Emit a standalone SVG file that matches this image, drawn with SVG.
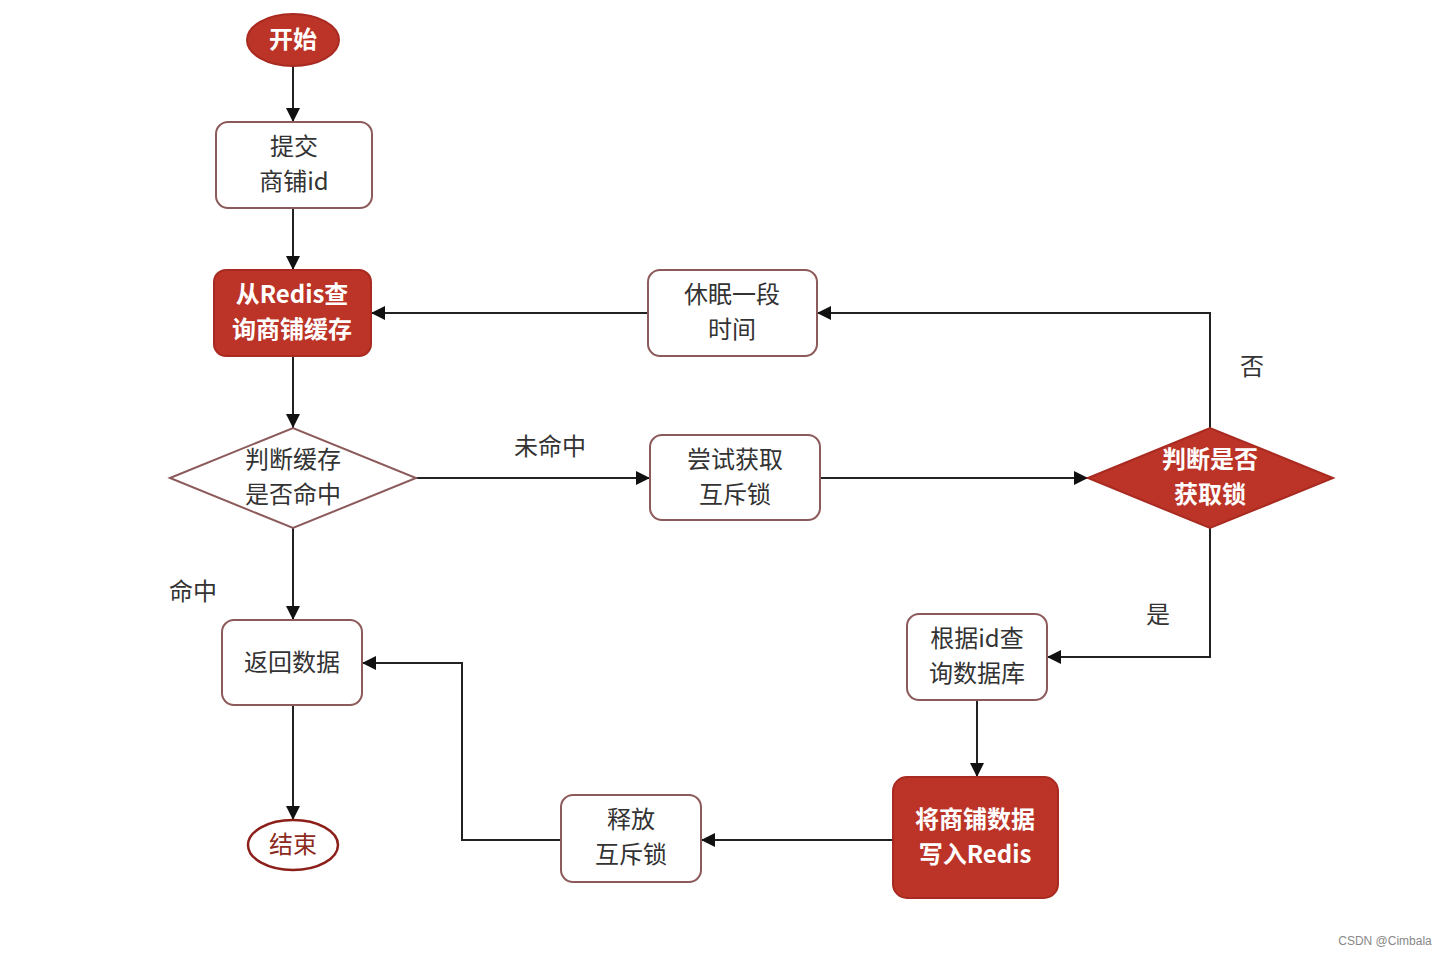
<svg xmlns="http://www.w3.org/2000/svg" width="1447" height="955" viewBox="0 0 1447 955">
<defs>
<marker id="arr" viewBox="0 0 10 10" refX="10" refY="5" markerWidth="14" markerHeight="14" markerUnits="userSpaceOnUse" orient="auto">
<path d="M0,0 L10,5 L0,10 z" fill="#111"/>
</marker>
<style>
.box{fill:#fff;stroke:#8c5a5a;stroke-width:2}
.red{fill:#bb3427;stroke:#a82a20;stroke-width:2}
.t{font-family:"Noto Sans CJK SC","Noto Sans",sans-serif;font-size:24px;fill:#333;text-anchor:middle}
.w{fill:#fff;font-weight:bold}
.lbl{font-family:"Noto Sans CJK SC","Noto Sans",sans-serif;font-size:24px;fill:#333;text-anchor:middle}
.c{fill:none;stroke:#222;stroke-width:2;marker-end:url(#arr)}
</style>
</defs>
<rect width="1447" height="955" fill="#fff"/>
<g id="connectors">
<path class="c" d="M293,66 L293,122"/>
<path class="c" d="M293,208 L293,270"/>
<path class="c" d="M293,356 L293,428"/>
<path class="c" d="M293,528 L293,620"/>
<path class="c" d="M293,705 L293,820"/>
<path class="c" d="M416,478 L650,478"/>
<path class="c" d="M820,478 L1088,478"/>
<path class="c" d="M1210,428 L1210,313 L817,313"/>
<path class="c" d="M648,313 L371,313"/>
<path class="c" d="M1210,528 L1210,657 L1047,657"/>
<path class="c" d="M977,700 L977,777"/>
<path class="c" d="M893,840 L701,840"/>
<path class="c" d="M561,840 L462,840 L462,663 L362,663"/>
</g>
<g id="start"><ellipse cx="293" cy="40" rx="46" ry="26" class="red"/><text x="293" y="48" class="t w">开始</text></g>
<g id="submit"><rect x="216" y="122" width="156" height="86" rx="12" class="box"/><text x="294" y="155" class="t">提交</text><text x="294" y="190" class="t">商铺id</text></g>
<g id="redisQuery"><rect x="214" y="270" width="157" height="86" rx="12" class="red"/><text x="292" y="303" class="t w">从Redis查</text><text x="292" y="338" class="t w">询商铺缓存</text></g>
<g id="cacheHit"><polygon points="170,478 293,428 416,478 293,528" class="box"/><text x="293" y="468" class="t">判断缓存</text><text x="293" y="503" class="t">是否命中</text></g>
<g id="returnData"><rect x="222" y="620" width="140" height="85" rx="12" class="box"/><text x="292" y="671" class="t">返回数据</text></g>
<g id="end"><ellipse cx="293" cy="845" rx="45" ry="25" fill="#fff" stroke="#8c1f1a" stroke-width="2.5"/><text x="293" y="853" class="t" style="fill:#8c2a22">结束</text></g>
<g id="sleep"><rect x="648" y="270" width="169" height="86" rx="12" class="box"/><text x="732" y="303" class="t">休眠一段</text><text x="732" y="338" class="t">时间</text></g>
<g id="tryLock"><rect x="650" y="435" width="170" height="85" rx="12" class="box"/><text x="735" y="468" class="t">尝试获取</text><text x="735" y="503" class="t">互斥锁</text></g>
<g id="gotLock"><polygon points="1088,478 1210,428 1333,478 1210,528" class="red"/><text x="1210" y="468" class="t w">判断是否</text><text x="1210" y="503" class="t w">获取锁</text></g>
<g id="queryDb"><rect x="907" y="614" width="140" height="86" rx="12" class="box"/><text x="977" y="647" class="t">根据id查</text><text x="977" y="682" class="t">询数据库</text></g>
<g id="writeRedis"><rect x="893" y="777" width="165" height="121" rx="14" class="red"/><text x="975" y="828" class="t w">将商铺数据</text><text x="975" y="863" class="t w">写入Redis</text></g>
<g id="unlock"><rect x="561" y="795" width="140" height="87" rx="12" class="box"/><text x="631" y="828" class="t">释放</text><text x="631" y="863" class="t">互斥锁</text></g>
<g id="labels">
<text x="193" y="600" class="lbl">命中</text>
<text x="550" y="455" class="lbl">未命中</text>
<text x="1252" y="375" class="lbl">否</text>
<text x="1158" y="623" class="lbl">是</text>
<text x="1385" y="945" style="font-family:'Liberation Sans',sans-serif;font-size:12px;fill:#888;text-anchor:middle">CSDN @Cimbala</text>
</g>
</svg>
